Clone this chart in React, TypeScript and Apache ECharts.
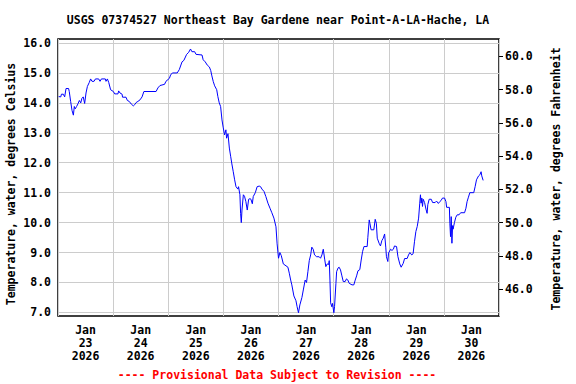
import React, { useEffect, useRef } from "react";
import * as echarts from "echarts";

// Hours since Jan 23 2026 00:00
const hours: number[] = [
  0.3, 1.2, 1.5, 2.3, 2.9, 3.5, 4.6, 4.9, 5.5, 6.1, 6.7, 7.1, 7.5, 8.1, 8.7, 9.3, 9.9, 10.4, 11.0, 11.6,
  12.2, 12.8, 13.6, 14.2, 14.8, 15.7, 16.3, 17.7, 18.3, 18.9, 20.6, 20.9, 21.5, 22.1, 22.9, 24.1, 24.7,
  26.1, 26.4, 27.0, 27.9, 28.1, 29.6, 30.2, 31.0, 31.9, 32.8, 33.4, 34.0, 34.8, 35.7, 36.6, 37.4, 42.7,
  43.5, 44.4, 46.4, 47.0, 48.5, 49.0, 49.8, 51.9, 52.8, 54.0, 54.8, 56.0, 56.9, 57.7, 58.3, 59.5, 60.1,
  62.7, 63.2, 64.1, 65.0, 65.9, 66.5, 67.0, 67.6, 68.2, 69.1, 69.6, 70.2, 70.8, 71.4, 71.9, 72.5, 73.1,
  73.4, 74.0, 74.6, 75.2, 75.7, 76.3, 76.9, 77.5, 78.3, 78.6, 79.2, 79.5, 79.8, 80.1, 80.7, 81.2, 81.8,
  82.4, 83.0, 83.6, 84.0, 84.6, 85.0, 85.9, 86.7, 87.6, 88.2, 88.8, 89.7, 90.5, 91.4, 92.3, 93.1, 94.0,
  94.9, 95.4, 96.0, 96.6, 97.2, 98.1, 100.1, 100.7, 101.3, 101.8, 102.7, 103.6, 104.1, 104.7, 105.3,
  106.2, 106.8, 107.6, 108.2, 108.8, 109.4, 110.0, 110.5, 111.1, 111.7, 112.6, 113.7, 114.3, 114.9,
  115.5, 116.1, 116.6, 117.2, 117.8, 118.1, 118.4, 118.7, 119.2, 119.5, 120.1, 120.4, 121.0, 121.3,
  121.9, 122.4, 123.0, 123.6, 124.2, 125.0, 125.6, 126.2, 126.8, 128.0, 128.8, 129.4, 130.0, 130.6,
  131.4, 132.0, 132.6, 133.2, 134.6, 134.9, 135.5, 135.8, 136.3, 137.5, 138.1, 138.6, 139.0, 139.8,
  140.4, 141.0, 141.6, 142.2, 142.7, 143.0, 143.6, 143.9, 144.8, 145.4, 146.0, 146.5, 147.4, 148.0,
  148.8, 149.4, 150.3, 150.9, 152.0, 152.6, 153.2, 154.0, 154.6, 155.2, 155.8, 156.4, 157.0, 157.5,
  157.8, 158.1, 158.4, 158.7, 159.0, 159.6, 160.2, 160.7, 161.0, 161.6, 162.5, 163.1, 164.2, 164.8,
  165.6, 166.2, 166.8, 167.4, 168.3, 168.9, 169.2, 170.4, 170.6, 170.9, 171.2, 171.5, 171.8, 172.0,
  172.6, 173.2, 173.8, 174.6, 175.3, 177.0, 177.6, 178.1, 178.7, 179.3, 181.0, 181.6, 182.2, 183.1,
  183.7, 184.2, 184.5, 185.1,
];

const tempsC: number[] = [
  14.21, 14.2, 14.29, 14.29, 14.2, 14.48, 14.48, 14.38, 14.05, 13.75, 13.59, 13.88, 13.8, 13.88, 13.97,
  14.08, 14.0, 14.15, 14.2, 13.98, 14.33, 14.55, 14.68, 14.8, 14.72, 14.72, 14.8, 14.8, 14.72, 14.8,
  14.8, 14.72, 14.8, 14.68, 14.44, 14.38, 14.3, 14.3, 14.4, 14.33, 14.29, 14.19, 14.19, 14.08, 14.05,
  13.96, 13.9, 13.94, 14.01, 14.05, 14.1, 14.2, 14.38, 14.38, 14.5, 14.58, 14.62, 14.72, 14.82, 14.93,
  15.0, 15.0, 15.11, 15.37, 15.42, 15.62, 15.69, 15.8, 15.71, 15.71, 15.62, 15.6, 15.44, 15.37, 15.26,
  15.2, 15.08, 14.9, 14.71, 14.57, 14.44, 14.21, 14.0, 13.88, 13.43, 13.19, 12.93, 13.1, 12.82, 12.97,
  12.49, 12.2, 11.96, 11.7, 11.43, 11.2, 11.12, 11.2, 10.93, 10.31, 10.0, 10.42, 10.93, 10.88, 10.7,
  10.42, 10.78, 10.8, 10.78, 10.63, 10.87, 11.0, 11.2, 11.22, 11.2, 11.12, 11.04, 10.87, 10.65, 10.48,
  10.33, 10.15, 9.86, 9.29, 8.81, 9.0, 8.9, 8.62, 8.51, 8.31, 8.08, 7.92, 7.55, 7.39, 7.19, 6.99, 7.25,
  7.5, 7.75, 8.08, 8.0, 8.36, 8.73, 8.92, 9.18, 9.11, 8.92, 8.86, 8.86, 8.81, 8.92, 9.11, 8.78, 8.53,
  8.62, 8.6, 8.73, 8.08, 7.32, 7.19, 7.3, 6.99, 7.19, 7.97, 8.36, 8.48, 8.51, 8.42, 8.22, 8.03, 8.03,
  8.12, 8.08, 7.97, 7.92, 7.92, 8.08, 8.22, 8.39, 8.43, 8.75, 9.03, 9.2, 9.2, 9.51, 10.09, 9.98, 9.76,
  9.76, 10.11, 9.98, 9.48, 9.31, 9.22, 9.4, 9.48, 9.62, 9.18, 8.86, 8.7, 8.98, 9.11, 9.07, 9.11, 9.22,
  9.2, 8.86, 8.62, 8.51, 8.64, 8.8, 8.8, 8.92, 9.0, 8.92, 8.96, 9.36, 9.7, 9.87, 10.15, 10.65, 10.93,
  10.65, 10.82, 10.54, 10.78, 10.67, 10.45, 10.31, 10.6, 10.78, 10.78, 10.67, 10.67, 10.72, 10.64,
  10.7, 10.74, 10.82, 10.82, 10.7, 10.51, 10.51, 9.98, 9.53, 10.2, 9.31, 9.9, 9.78, 10.0, 10.18, 10.26,
  10.26, 10.33, 10.33, 10.48, 10.7, 10.85, 11.0, 11.0, 11.2, 11.43, 11.56, 11.6, 11.7, 11.56, 11.41,
];

const celsiusTicks: number[] = [7, 8, 9, 10, 11, 12, 13, 14, 15, 16];
const fahrenheitTicks: number[] = [46, 48, 50, 52, 54, 56, 58, 60];
const dayLabelHours: number[] = [12, 36, 60, 84, 108, 132, 156, 180];
const dayNumbers: number[] = [23, 24, 25, 26, 27, 28, 29, 30];

const titleText = "USGS 07374527 Northeast Bay Gardene near Point-A-LA-Hache, LA";
const footerText = "---- Provisional Data Subject to Revision ----";
const leftName = "Temperature, water, degrees Celsius";
const rightName = "Temperature, water, degrees Fahrenheit";

const C_MIN = 6.88;
const C_MAX = 16.134;

export default function App() {
  const ref = useRef<HTMLDivElement>(null);
  useEffect(() => {
    if (!ref.current) return;
    const chart = echarts.init(ref.current, null, { renderer: "svg" });
    const font = "DejaVu Sans Mono";
    const data = hours.map((h, i) => [h, tempsC[i]]);
    chart.setOption({
      animation: false,
      backgroundColor: "#ffffff",
      grid: {
        left: 58,
        right: 77,
        top: 39,
        bottom: 68,
        show: true,
        borderColor: "#000000",
        borderWidth: 1.5,
        backgroundColor: "transparent",
      },
      xAxis: {
        type: "value",
        min: 0,
        max: 192,
        interval: 24,
        axisLine: { show: false },
        axisTick: { show: false },
        splitLine: { show: true, lineStyle: { color: "#cccccc", width: 1 } },
        axisLabel: {
          customValues: dayLabelHours,
          margin: 7,
          fontFamily: font,
          fontWeight: "bold",
          fontSize: 11.5,
          lineHeight: 13,
          color: "#000",
          formatter: (v: number) => {
            const idx = dayLabelHours.indexOf(Math.round(v));
            const d = idx >= 0 ? dayNumbers[idx] : "";
            return `Jan\n${d}\n2026`;
          },
        },
      },
      yAxis: [
        {
          type: "value",
          position: "left",
          min: C_MIN,
          max: C_MAX,
          axisLine: { show: false },
          axisTick: { show: false, customValues: celsiusTicks },
          splitLine: { show: true, lineStyle: { color: "#cccccc", width: 1 } },
          axisLabel: {
            customValues: celsiusTicks,
            margin: 7,
            fontFamily: font,
            fontWeight: "bold",
            fontSize: 11.5,
            color: "#000",
            formatter: (v: number) => v.toFixed(1),
          },
        },
        {
          type: "value",
          position: "right",
          min: C_MIN * 1.8 + 32,
          max: C_MAX * 1.8 + 32,
          axisLine: { show: false },
          axisTick: {
            show: true,
            inside: false,
            length: 4,
            customValues: fahrenheitTicks,
            lineStyle: { color: "#000" },
          },
          splitLine: { show: false },
          axisLabel: {
            customValues: fahrenheitTicks,
            margin: 6,
            fontFamily: font,
            fontWeight: "bold",
            fontSize: 11.5,
            color: "#000",
            formatter: (v: number) => v.toFixed(1),
          },
        },
      ],
      series: [
        {
          type: "line",
          yAxisIndex: 0,
          data,
          showSymbol: false,
          symbol: "none",
          lineStyle: { color: "#0000ff", width: 1 },
          itemStyle: { color: "#0000ff" },
        },
      ],
      graphic: [
        {
          type: "text",
          x: 278,
          y: 20,
          style: {
            text: titleText,
            fontFamily: font,
            fontWeight: "bold",
            fontSize: 11.5,
            fill: "#000",
            textAlign: "center",
            textVerticalAlign: "middle",
          },
        },
        {
          type: "text",
          x: 277,
          y: 375,
          style: {
            text: footerText,
            fontFamily: font,
            fontWeight: "bold",
            fontSize: 11.5,
            fill: "#ff0000",
            textAlign: "center",
            textVerticalAlign: "middle",
          },
        },
        {
          type: "text",
          x: 11,
          y: 184,
          rotation: Math.PI / 2,
          style: {
            text: leftName,
            fontFamily: font,
            fontWeight: "bold",
            fontSize: 11.5,
            fill: "#000",
            textAlign: "center",
            textVerticalAlign: "middle",
          },
        },
        {
          type: "text",
          x: 556,
          y: 179,
          rotation: Math.PI / 2,
          style: {
            text: rightName,
            fontFamily: font,
            fontWeight: "bold",
            fontSize: 11.5,
            fill: "#000",
            textAlign: "center",
            textVerticalAlign: "middle",
          },
        },
      ],
    });
    return () => chart.dispose();
  }, []);
  return (
    <div
      ref={ref}
      style={{ position: "fixed", left: 0, top: 0, width: 576, height: 384, background: "#fff" }}
    />
  );
}
